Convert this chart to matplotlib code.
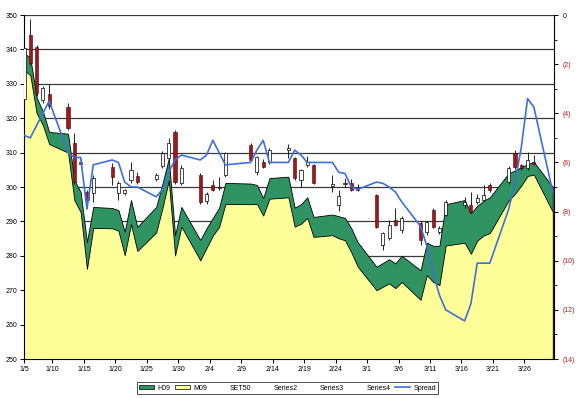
import datetime as dt

import matplotlib
matplotlib.use("Agg")
import matplotlib.pyplot as plt
import numpy as np
from matplotlib.lines import Line2D
from matplotlib.patches import Patch

plt.rcParams["font.family"] = ["Liberation Sans", "DejaVu Sans"]

# ── data ─────────────────────────────────────────────────────────────
DATES = ["1/5", "1/6", "1/7", "1/8", "1/9", "1/12", "1/13", "1/14", "1/15", "1/16",
         "1/19", "1/20", "1/21", "1/22", "1/23", "1/26", "1/27", "1/28", "1/29", "1/30",
         "2/2", "2/3", "2/4", "2/5", "2/6", "2/10", "2/11", "2/12", "2/13",
         "2/16", "2/17", "2/18", "2/19", "2/20", "2/23", "2/24", "2/25", "2/26", "2/27",
         "3/2", "3/3", "3/4", "3/5", "3/6", "3/9", "3/10", "3/11", "3/12", "3/13",
         "3/16", "3/17", "3/18", "3/19", "3/20", "3/23", "3/24", "3/25", "3/26", "3/27",
         "3/30"]

H09 = [339.0, 337.5, 326.0, 322.0, 316.0, 315.5, 302.0, 298.5, 284.0, 294.2,
       293.9, 293.3, 287.0, 296.2, 288.4, 294.2, 301.0, 308.3, 286.0, 294.2,
       284.6, 288.0, 291.0, 294.0, 301.2, 301.0, 300.6, 296.8, 302.6,
       303.0, 294.0, 295.0, 297.0, 291.3, 292.0, 291.5, 291.0, 288.0, 284.0,
       276.8, 277.9, 279.0, 277.8, 280.0, 275.8, 283.8, 282.9, 282.9, 295.0,
       296.2, 292.4, 294.5, 296.0, 297.0, 304.0, 304.8, 305.8, 306.6, 307.3,
       300.0]

M09 = [334.0, 332.5, 321.5, 318.0, 312.5, 310.0, 296.2, 292.7, 276.2, 288.1,
       288.0, 287.3, 280.2, 289.2, 281.4, 286.8, 293.9, 301.9, 280.1, 288.5,
       278.7, 282.3, 285.9, 288.4, 295.1, 295.0, 295.1, 291.7, 296.6,
       297.0, 288.5, 289.3, 291.0, 285.5, 286.0, 285.1, 284.5, 281.0, 276.9,
       270.0, 271.0, 272.0, 270.6, 272.4, 267.2, 274.4, 272.4, 271.5, 283.0,
       283.8, 280.6, 284.4, 285.9, 286.6, 296.1, 298.0, 300.4, 303.2, 303.6,
       292.8]

SPREAD = [-4.9, -5.0, -4.5, -4.0, -3.5, -5.6, -5.8, -5.8, -7.9, -6.1,
          -5.9, -6.0, -6.8, -7.0, -7.0, -7.4, -7.1, -6.4, -5.9, -5.7,
          -5.9, -5.7, -5.1, -5.6, -6.1, -6.0, -5.5, -5.1, -6.0,
          -6.0, -5.5, -5.7, -6.0, -6.0, -6.0, -6.4, -6.45, -7.0, -7.1,
          -6.8, -6.85, -7.0, -7.2, -7.6, -8.6, -9.4, -10.5, -11.4, -12.0,
          -12.45, -11.75, -10.1, -10.1, -10.1, -7.9, -6.8, -5.4, -3.4, -3.75,
          -7.2]

# SET50 index, open / high / low / close
SET_OPEN = [325.6, 344.2, 340.7, 325.3, 327.0, 323.3, 312.8, 307.2, 298.5, 298.3,
            305.8, 298.3, 298.3, 302.0, 303.2, 302.3, 306.1, 308.4, 316.0, 301.2,
            303.5, 296.0, 300.6, 299.6, 303.5, 312.2, 304.4, 307.3, 307.3,
            310.8, 308.4, 302.0, 306.4, 306.4, 300.3, 294.8, 300.8, 301.2, 299.8,
            297.7, 283.1, 285.2, 290.4, 287.5, 289.5, 286.9, 293.3, 286.9, 291.9,
            294.8, 294.8, 295.6, 296.2, 300.6, 301.5, 309.9, 306.4, 305.5, 307.3,
            np.nan]
SET_HIGH = [340.6, 348.8, 341.2, 329.5, 330.0, 324.5, 315.7, 308.0, 299.0, 303.5,
            307.0, 301.6, 299.5, 307.3, 304.4, 304.0, 310.5, 314.2, 316.5, 306.4,
            304.0, 298.6, 302.0, 303.0, 310.2, 312.8, 309.0, 308.0, 311.3,
            312.5, 308.8, 305.3, 309.0, 306.8, 303.5, 299.0, 302.5, 302.2, 301.0,
            298.0, 287.0, 290.5, 293.9, 291.5, 290.0, 290.2, 293.8, 288.6, 296.2,
            297.0, 298.5, 298.0, 300.6, 301.2, 306.0, 310.8, 306.8, 310.2, 309.3,
            np.nan]
SET_LOW = [325.0, 335.5, 326.5, 324.5, 322.8, 316.5, 301.0, 306.3, 294.8, 295.6,
           300.5, 296.2, 297.8, 301.2, 301.0, 301.8, 305.5, 308.0, 301.0, 300.5,
           295.0, 295.2, 298.8, 299.2, 303.0, 307.5, 303.5, 305.5, 306.8,
           308.5, 302.0, 300.0, 305.8, 300.8, 298.5, 293.0, 300.0, 298.8, 298.8,
           288.0, 281.7, 284.5, 288.6, 286.5, 283.2, 286.0, 288.0, 286.3, 291.5,
           294.0, 292.3, 295.0, 295.8, 298.6, 301.0, 305.2, 305.0, 305.0, 306.5,
           np.nan]
SET_CLOSE = [340.4, 336.0, 327.3, 328.8, 323.5, 317.2, 301.5, 306.8, 296.2, 302.6,
             302.9, 301.2, 299.1, 305.0, 301.5, 303.5, 309.9, 312.8, 301.5, 305.5,
             295.6, 298.0, 299.2, 299.9, 309.9, 307.8, 308.7, 305.8, 310.8,
             311.3, 302.6, 305.0, 307.3, 301.2, 300.9, 297.3, 301.2, 299.2, 299.2,
             288.4, 286.6, 289.0, 289.0, 291.0, 284.6, 289.8, 288.4, 288.1, 295.6,
             295.6, 292.7, 296.8, 297.7, 299.0, 305.5, 305.8, 305.5, 307.8, 306.7,
             np.nan]

TICK_DATES = ["1/5", "1/10", "1/15", "1/20", "1/25", "1/30", "2/4", "2/9", "2/14",
              "2/19", "2/24", "3/1", "3/6", "3/11", "3/16", "3/21", "3/26"]

GREEN = "#2f9461"
YELLOW = "#ffff99"
BLUE = "#3f6fd8"
DOWN_RED = "#a3161b"
AXIS_RED = "#c41a1a"


def day_offset(label):
    m, d = (int(p) for p in label.split("/"))
    return (dt.date(2009, m, d) - dt.date(2009, 1, 5)).days


x = np.array([day_offset(d) for d in DATES], dtype=float)
o = np.array(SET_OPEN)
h = np.array(SET_HIGH)
lo = np.array(SET_LOW)
c = np.array(SET_CLOSE)

fig = plt.figure(figsize=(5.79, 3.98), dpi=100)
ax = fig.add_axes([24 / 579, 39 / 398, 530 / 579, 344 / 398])

# gridlines behind the areas
for v in range(260, 351, 10):
    ax.axhline(v, color="#3a3a3a", lw=0.9, zorder=0.5)

ax.fill_between(x, 250, H09, color=GREEN, edgecolor="black", lw=0.6, zorder=1)
ax.fill_between(x, 250, M09, color=YELLOW, edgecolor="black", lw=0.6, zorder=1.5)

# candlesticks
ok = ~np.isnan(o)
up = ok & (c >= o)
dn = ok & (c < o)
ax.vlines(x[ok], lo[ok], h[ok], color="black", lw=0.6, zorder=3)
ax.bar(x[up], (c - o)[up], bottom=o[up], width=0.5, color="white",
       edgecolor="black", lw=0.5, zorder=4)
ax.bar(x[dn], (c - o)[dn], bottom=o[dn], width=0.5, color=DOWN_RED,
       edgecolor="#3a0a0a", lw=0.4, zorder=4)

ax.set_ylim(250, 350)
ax.set_yticks(range(250, 351, 10))
ax.set_xlim(0, 84.2)
tick_pos = [max(day_offset(t) - 0.5, 0) for t in TICK_DATES]
ax.set_xticks(tick_pos)
ax.set_xticklabels(TICK_DATES)
ax.tick_params(axis="both", labelsize=5, length=3, width=0.7, direction="out",
               pad=2)
ax.spines["top"].set_visible(False)
ax.spines["right"].set_visible(False)
ax.spines["left"].set_linewidth(0.8)
ax.spines["bottom"].set_linewidth(0.8)

# spread on secondary axis
ax2 = ax.twinx()
ax2.plot(x, SPREAD, color=BLUE, lw=1.2, zorder=5)
ax2.set_ylim(-14, 0)
ax2.set_yticks(range(-14, 1, 2))
ax2.set_yticks(range(-13, 0, 2), minor=True)
ax2.set_yticklabels(["0" if v == 0 else f"({-v})" for v in range(-14, 1, 2)])
for lab, v in zip(ax2.get_yticklabels(), range(-14, 1, 2)):
    lab.set_color("black" if v == 0 else AXIS_RED)
ax2.tick_params(axis="y", which="major", labelsize=5, length=3, width=0.7, pad=3)
ax2.tick_params(axis="y", which="minor", length=2, width=0.6)
for s in ("top", "left", "bottom"):
    ax2.spines[s].set_visible(False)
ax2.spines["right"].set_linewidth(0.8)

handles = [
    Patch(facecolor=GREEN, edgecolor="black", lw=0.5),
    Patch(facecolor=YELLOW, edgecolor="black", lw=0.5),
    Line2D([], [], ls="none"),
    Line2D([], [], ls="none"),
    Line2D([], [], ls="none"),
    Line2D([], [], ls="none"),
    Line2D([], [], color=BLUE, lw=1.2),
]
labels = ["H09", "M09", "SET50", "Series2", "Series3", "Series4", "Spread"]
leg = fig.legend(handles, labels, loc="center", bbox_to_anchor=(287.5 / 579, 10 / 398),
                 ncol=7, fontsize=5, frameon=True, fancybox=False,
                 handlelength=2.2, handleheight=0.6, handletextpad=0.45,
                 columnspacing=0.6, borderpad=0.3, borderaxespad=0)
leg.get_frame().set_edgecolor("black")
leg.get_frame().set_linewidth(0.6)

fig.savefig("out.png", dpi=100)
